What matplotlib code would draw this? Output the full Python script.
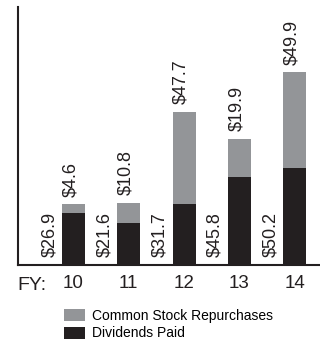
import matplotlib
matplotlib.use("Agg")
import matplotlib.pyplot as plt
from matplotlib.patches import Patch

plt.rcParams['font.family'] = ['Liberation Sans', 'DejaVu Sans']

years = ["10", "11", "12", "13", "14"]
dividends = [26.9, 21.6, 31.7, 45.8, 50.2]
repurchases = [4.6, 10.8, 47.7, 19.9, 49.9]

c_rep = "#939598"
c_div = "#231f20"

W, H = 320, 339
fig = plt.figure(figsize=(W / 100, H / 100), dpi=100)
ax = fig.add_axes([18 / W, 74 / H, 302 / W, 258 / H])

x = list(range(len(years)))
bw = 0.416
ax.bar(x, dividends, width=bw, color=c_div, zorder=2)
ax.bar(x, repurchases, width=bw, bottom=dividends, color=c_rep, zorder=2)

for xi, d, r in zip(x, dividends, repurchases):
    ax.annotate(f"${d:.1f}", xy=(xi, 0), xytext=(-24 * 0.72, 6),
                textcoords="offset points", rotation=90,
                ha="center", va="bottom", fontsize=13, color="#231f20")
    ax.annotate(f"${r:.1f}", xy=(xi, d + r), xytext=(-2, 5.5),
                textcoords="offset points", rotation=90,
                ha="center", va="bottom", fontsize=13, color="#231f20")

ax.set_xlim(-1.0045, 4.46)
ax.set_ylim(0, 134)
ax.set_xticks(x)
ax.set_xticklabels(years, fontsize=13.5, color="#231f20")
ax.tick_params(axis="x", length=0, pad=7)
ax.set_yticks([])
for s in ["top", "right"]:
    ax.spines[s].set_visible(False)
for s in ["left", "bottom"]:
    ax.spines[s].set_linewidth(1.5)
    ax.spines[s].set_color("#231f20")

fig.text(17 / W, 1 - 285 / H, "FY:", fontsize=14, ha="left", va="center", color="#231f20")

handles = [Patch(facecolor=c_rep, edgecolor="none", label="Common Stock Repurchases"),
           Patch(facecolor=c_div, edgecolor="none", label="Dividends Paid")]
fig.legend(handles=handles, loc="upper left", bbox_to_anchor=(64 / W, 1 - 309 / H),
           frameon=False, fontsize=10, handlelength=1.5, handleheight=0.94,
           handletextpad=0.55, labelspacing=0.25, borderpad=0, borderaxespad=0)

fig.savefig("out.png", dpi=100)
